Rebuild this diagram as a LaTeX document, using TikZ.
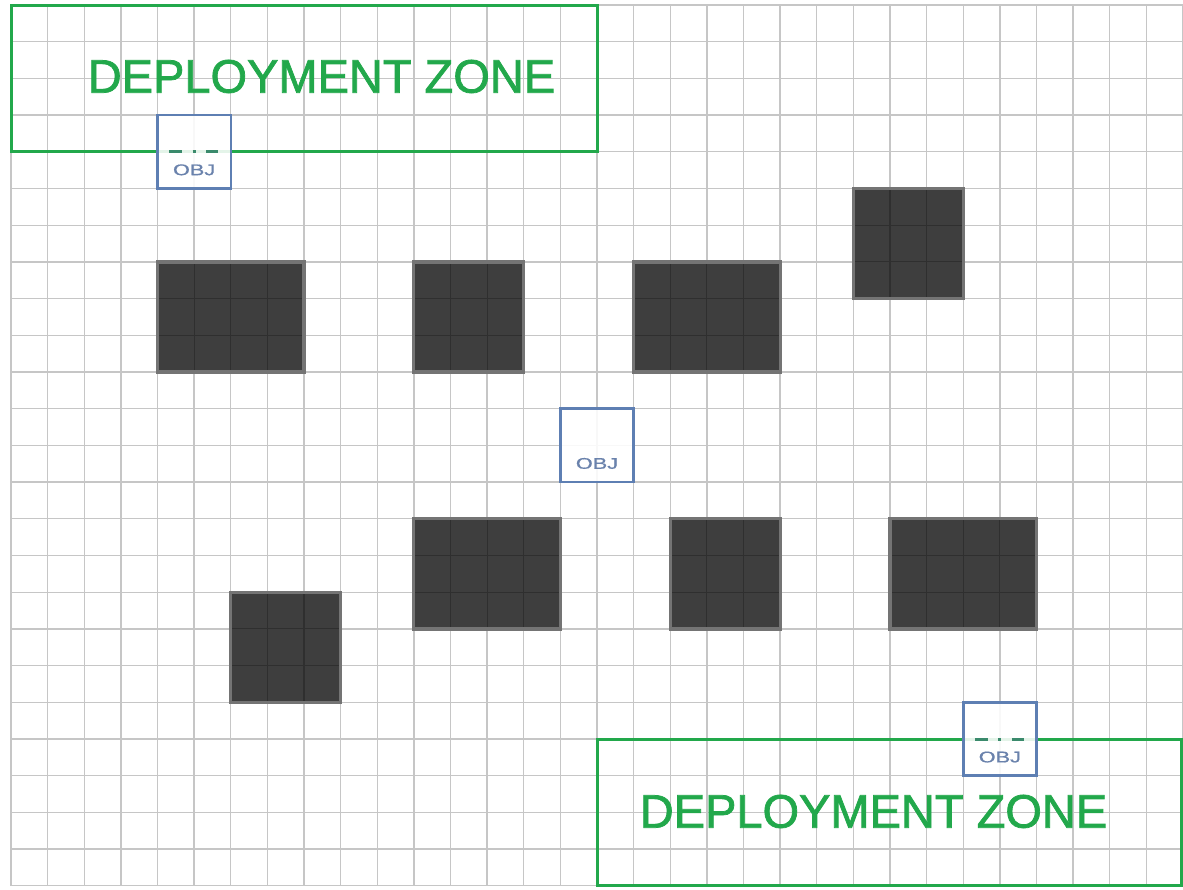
\documentclass[tikz,border=0pt]{standalone}
\usepackage{fontspec}
\setmainfont{Liberation Sans}
\newfontfamily\zonefont[FakeBold=1.6]{Liberation Sans}
\newfontfamily\objfont[FakeBold=0.8]{Liberation Sans}
\definecolor{gridgrey}{HTML}{C6C6C6}
\definecolor{blockfill}{HTML}{3E3E3E}
\definecolor{blockline}{HTML}{2F2F2F}
\definecolor{blockedge}{HTML}{747474}
\definecolor{zonegreen}{HTML}{22A84B}
\definecolor{objblue}{HTML}{5E7FB3}
\definecolor{objtextblue}{HTML}{6A82AC}
\definecolor{objdashc}{HTML}{3A8A6C}
\tikzset{
  gridline/.style={draw=gridgrey, line width=1.3bp},
  terrain/.style={fill=blockfill},
  terraingrid/.style={draw=blockline, line width=1.1bp},
  terrainedge/.style={draw=blockedge, line width=3.2bp},
  zonebox/.style={draw=zonegreen, line width=3bp},
  zonelabel/.style={text=zonegreen, inner sep=0pt, font=\zonefont\fontsize{47bp}{47bp}\selectfont},
  objbox/.style={draw=objblue, line width=2.5bp, fill=white, fill opacity=0.88,
    minimum width=73.25bp, minimum height=73.4bp, inner sep=0pt},
  objlabel/.style={text=objtextblue, inner sep=0pt, xscale=1.4,
    font=\objfont\fontsize{15.5bp}{15.5bp}\selectfont},
  objdash/.style={draw=objdashc, line width=3bp}
}
\begin{document}
\begin{tikzpicture}
\path[use as bounding box] (0,0) rectangle (1183bp,-890bp);
\begin{scope}[shift={(11bp,-5bp)}, x=36.625bp, y=-36.7bp]
  % square grid of the table
  \foreach \i in {0,...,32} \draw[gridline] (\i,0) -- (\i,24);
  \foreach \j in {0,...,24} \draw[gridline] (0,\j) -- (32,\j);

  % terrain pieces (left col / top row / right col / bottom row)
  \foreach \a/\b/\c/\d in {4/7/8/10, 11/7/14/10, 17/7/21/10, 23/5/26/8,
                           6/16/9/19, 11/14/15/17, 18/14/21/17, 24/14/28/17} {
    \fill[terrain] (\a,\b) rectangle (\c,\d);
    \foreach \k in {\a,...,\c} \draw[terraingrid] (\k,\b) -- (\k,\d);
    \foreach \k in {\b,...,\d} \draw[terraingrid] (\a,\k) -- (\c,\k);
    \draw[terrainedge] (\a,\b) rectangle (\c,\d);
  }

  % deployment zones
  \draw[zonebox] (0,0) rectangle (16,4);
  \draw[zonebox] (16,20) rectangle (31.95,24);
  \node[zonelabel] (zoneA) at (8.478,1.948) {DEPLOYMENT ZONE};
  \node[zonelabel] (zoneB) at (23.55,21.975) {DEPLOYMENT ZONE};

  % objective markers
  \foreach \n/\px/\py in {objA/5/4, objB/16/12, objC/27/20}
    \node[objbox] (\n) at (\px,\py) {};

  % zone edge seen through the markers on the zone lines
  \foreach \n in {objA, objC} {
    \draw[objdash] ([xshift=-25bp]\n.center) -- ([xshift=-12bp]\n.center);
    \draw[objdash] ([xshift=-1.5bp]\n.center) -- ([xshift=1.5bp]\n.center);
    \draw[objdash] ([xshift=12bp]\n.center) -- ([xshift=24bp]\n.center);
  }

  \foreach \n in {objA, objB, objC}
    \node[objlabel] at ([yshift=-56bp]\n.north) {OBJ};
\end{scope}
\end{tikzpicture}
\end{document}
